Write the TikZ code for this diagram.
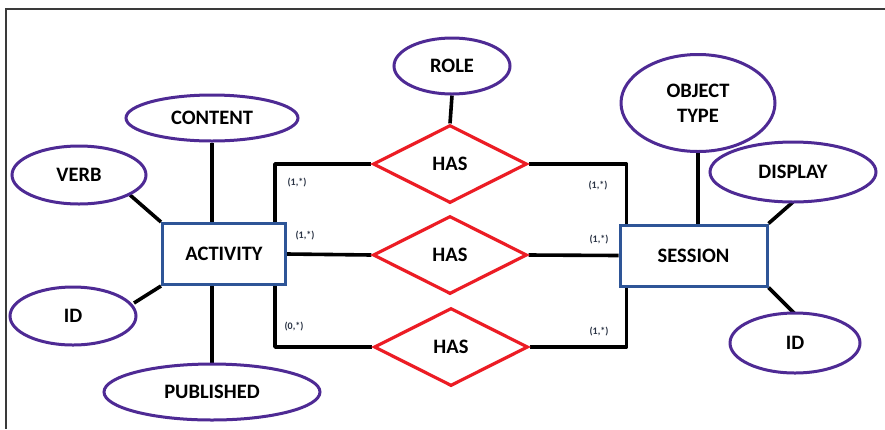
\documentclass[tikz,border=0pt]{standalone}
\usepackage{fontspec}
\setmainfont{Carlito}
\usetikzlibrary{shapes.geometric,backgrounds}
\definecolor{attrpurple}{HTML}{4E2A94}
\definecolor{entblue}{HTML}{2E5597}
\definecolor{relred}{HTML}{EC1C24}
\definecolor{cardgray}{HTML}{2B3445}
\definecolor{framegray}{HTML}{3A3A3A}
\tikzset{
  lbl/.style={font=\fontsize{20.5}{25}\selectfont\bfseries},
  attr/.style={ellipse, draw=attrpurple, line width=3pt, fill=white, inner sep=0pt,
    lbl, align=center},
  entity/.style={rectangle, draw=entblue, line width=3pt, fill=white, inner sep=0pt,
    minimum width=123pt, minimum height=61pt, lbl},
  rel/.style={diamond, draw=relred, line width=3.2pt, fill=white, inner sep=0pt,
    minimum width=154pt, minimum height=78pt, aspect=2, lbl},
  link/.style={line width=3.6pt, line join=round, black},
  card/.style={font=\fontsize{10}{11}\selectfont\bfseries, text=cardgray, inner sep=0pt},
}
\begin{document}
\begin{tikzpicture}[x=1pt,y=-1pt]
  \useasboundingbox (0,0) rectangle (885,429);
  % frame edges
  \draw[framegray, line width=2pt] (885,9) -- (6,9) -- (6,429);

  % entities
  \node[entity] (act) at (224,254) {ACTIVITY};
  \node[entity, minimum width=147pt] (ses) at (693.5,255.5) {SESSION};

  % relationships
  \node[rel] (has1) at (450,164) {HAS};
  \node[rel] (has2) at (450,255) {HAS};
  \node[rel] (has3) at (451,347) {HAS};

  % attributes
  \node[attr, minimum width=134pt, minimum height=58pt] (verb) at (79,175) {VERB};
  \node[attr, minimum width=172pt, minimum height=46pt] (content) at (212,118) {CONTENT};
  \node[attr, minimum width=126pt, minimum height=58pt] (idl) at (73,316) {ID};
  \node[attr, minimum width=216pt, minimum height=56pt] (pub) at (212,392) {PUBLISHED};
  \node[attr, minimum width=116pt, minimum height=56pt] (role) at (452,66) {ROLE};
  \node[attr, minimum width=154pt, minimum height=97pt] (obj) at (698,103) {OBJECT\\TYPE};
  \node[attr, minimum width=166pt, minimum height=60pt] (disp) at (793,172) {DISPLAY};
  \node[attr, minimum width=130pt, minimum height=60pt] (idr) at (795,343) {ID};

  % junction points on the entity borders
  \coordinate (aTop) at ([xshift=-12pt]act.north east);
  \coordinate (aBot) at ([xshift=-12pt]act.south east);
  \coordinate (sTop) at ([xshift=8pt]ses.north west);
  \coordinate (sBot) at ([xshift=8pt]ses.south west);
  \coordinate (dispEnd) at (793,202);
  \coordinate (idrEnd) at (797,316);
  \coordinate (verbEnd) at (130,195);
  \coordinate (idlEnd) at (134,303);

  % links, kept behind the shapes
  \begin{scope}[on background layer]
    \draw[link] (aTop) |- (has1.west);
    \draw[link] (has1.east) -| (sTop);
    \draw[link] (act.east) -- (has2.west);
    \draw[link] (has2.east) -- (ses.west);
    \draw[link] (aBot) |- (has3.west);
    \draw[link] (has3.east) -| (sBot);
    \draw[link] (content.south) -- (content.south |- act.north);
    \draw[link] (pub.north) -- (pub.north |- act.south);
    \draw[link] (verbEnd) -- (act.north west);
    \draw[link] (idlEnd) -- (act.south west);
    \draw[link] (role.south) -- (has1.north);
    \draw[link] (obj.south) -- (obj.south |- ses.north);
    \draw[link] (ses.north east) -- (dispEnd);
    \draw[link] (ses.south east) -- (idrEnd);
  \end{scope}

  % cardinalities
  \node[card] (c1) at (297,183) {(1,*)};
  \node[card] (c2) at (305,236) {(1,*)};
  \node[card] (c3) at (294,327) {(0,*)};
  \node[card] (c4) at (598,186) {(1,*)};
  \node[card] (c5) at (599,240) {(1,*)};
  \node[card] (c6) at (599,332) {(1,*)};
\end{tikzpicture}
\end{document}
